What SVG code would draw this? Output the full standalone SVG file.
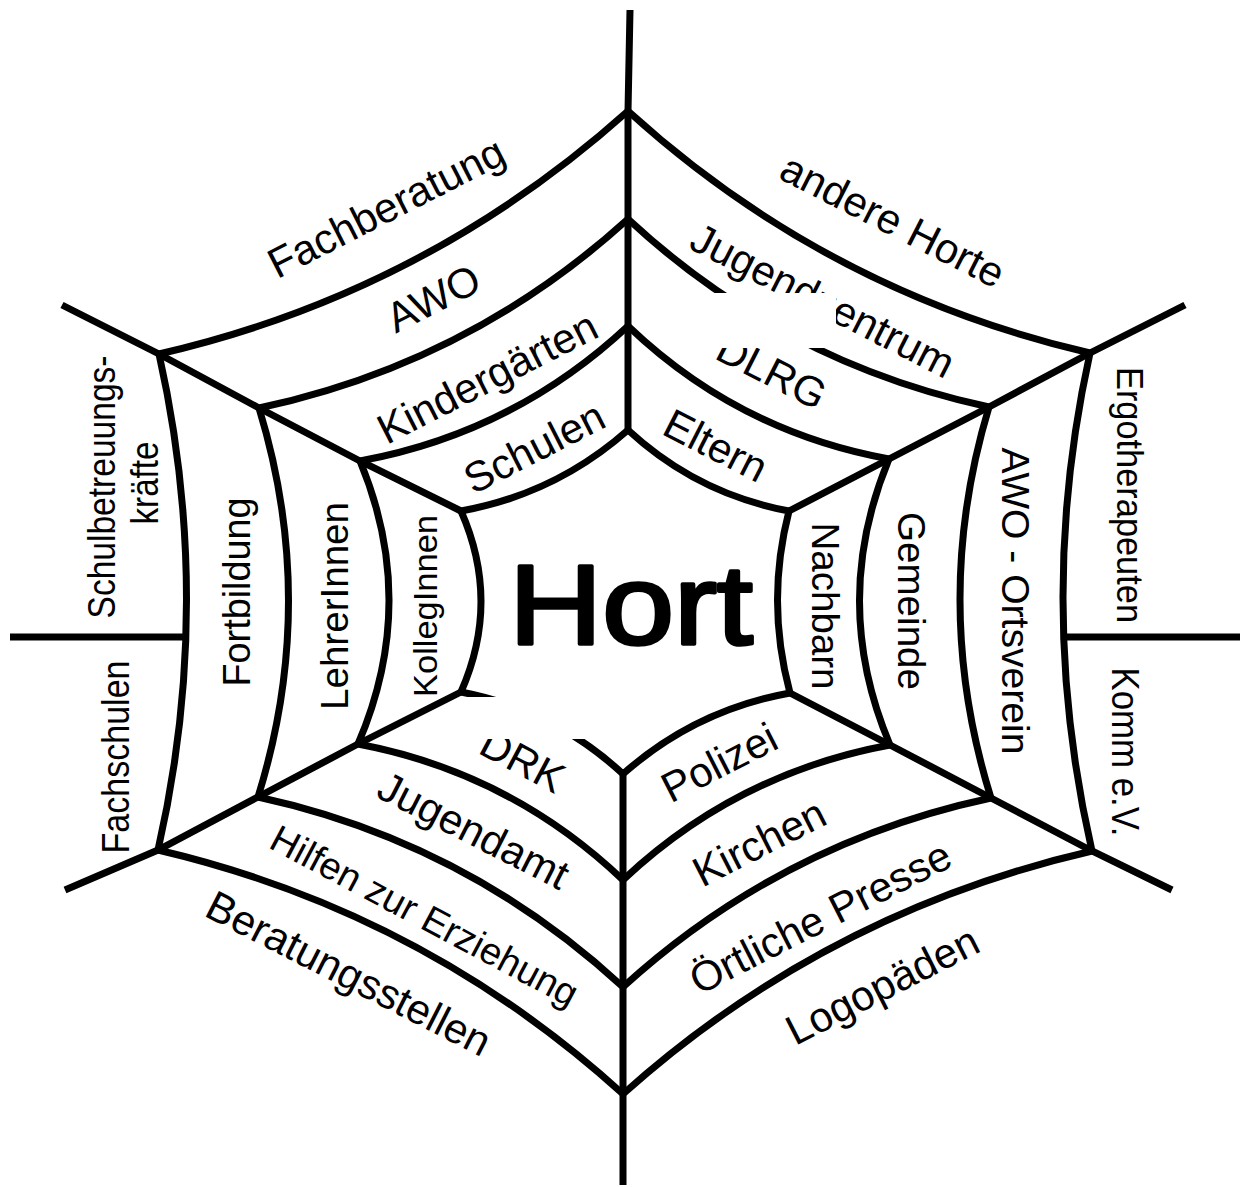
<svg xmlns="http://www.w3.org/2000/svg" width="1240" height="1187" viewBox="0 0 1240 1187">
<style>
.w{fill:none;stroke:#000;stroke-width:7;stroke-linejoin:miter;stroke-linecap:butt}
.t{font-family:"Liberation Sans",Arial,sans-serif;font-size:39px;fill:#000;text-anchor:middle}
.d{font-size:42px}
.h{font-family:"Liberation Sans",Arial,sans-serif;font-size:114px;fill:#000;stroke:#000;stroke-width:3.5;stroke-linejoin:round;stroke-linecap:round;text-anchor:middle}
</style>
<rect width="1240" height="1187" fill="#fff"/>
<g id="connectors">
<polyline class="w" points="628,430 628,326 628,219 628,111 630,10"/>
<polyline class="w" points="789,511 889,459 989,407 1090,353 1185,305"/>
<polyline class="w" points="790,693 890,745 991,798 1092,851 1172,890"/>
<polyline class="w" points="623,774 623,880 623,987 623,1094 623,1185"/>
<polyline class="w" points="461,692 358,744 258,797 158,850 65,890"/>
<polyline class="w" points="461,511 360,461 259,408 159,354 62,305"/>
<line class="w" x1="10" y1="637" x2="187" y2="637"/>
<line class="w" x1="1062" y1="637" x2="1240" y2="637"/>
<path id="ring1" class="w" d="M628,430 Q696.8,493.7 789,511 Q765.5,602 790,693 Q695.2,710.1 623,774 Q553.7,709.8 461,692 Q501,601.5 461,511 Q555.8,493.9 628,430"/>
<path id="ring2" class="w" d="M628,326 Q738.5,431.7 889,459 Q829.5,602 890,745 Q736.6,773.2 623,880 Q510.6,772.9 358,744 Q419,602.5 360,461 Q513.8,432.8 628,326"/>
<path id="ring3" class="w" d="M628,219 Q782.6,362.7 989,407 Q930,602.5 991,798 Q781.4,842.7 623,987 Q466.4,842.3 258,797 Q318.5,602.5 259,408 Q469,363.3 628,219"/>
<path id="ring4" class="w" d="M628,111 Q827.4,292.2 1090,353 Q1035,602 1092,851 Q826.2,912.1 623,1094 Q422.1,911.8 158,850 Q214.5,602 159,354 Q424.8,292.9 628,111"/>
</g>
<g id="hort"><text class="h" x="631" y="644" textLength="244" lengthAdjust="spacingAndGlyphs">Hort</text></g>
<g id="inner">
<g id="n-schulen"><text class="t d" transform="translate(534,447) rotate(-27)" dy="15">Schulen</text></g>
<g id="n-eltern"><text class="t d" transform="translate(716,445) rotate(27)" dy="15">Eltern</text></g>
<g id="n-nachbarn"><text class="t" transform="translate(812,606) rotate(90)" textLength="167" lengthAdjust="spacingAndGlyphs">Nachbarn</text></g>
<g id="n-polizei"><text class="t d" transform="translate(719,762) rotate(-27)" dy="15">Polizei</text></g>
<g id="n-drk"><text class="t d" transform="translate(523,760) rotate(28)" dy="15">DRK</text></g>
<g id="n-kolleginnen"><text class="t" style="font-size:33px" transform="translate(437,606) rotate(-90)" textLength="182" lengthAdjust="spacingAndGlyphs">KollegInnen</text></g>
</g>
<g id="second">
<g id="n-kindergaerten"><text class="t d" transform="translate(487,377) rotate(-27)" dy="15">Kindergärten</text></g>
<g id="n-dlrg"><text class="t d" transform="translate(772,371) rotate(27)" dy="15">DLRG</text></g>
<g id="n-gemeinde"><text class="t" transform="translate(898,601) rotate(90)" textLength="178" lengthAdjust="spacingAndGlyphs">Gemeinde</text></g>
<g id="n-kirchen"><text class="t d" transform="translate(759,842) rotate(-27)" dy="15">Kirchen</text></g>
<g id="n-jugendamt"><text class="t d" transform="translate(474,830) rotate(27)" dy="15">Jugendamt</text></g>
<g id="n-lehrerinnen"><text class="t" transform="translate(348,606) rotate(-90)" textLength="208" lengthAdjust="spacingAndGlyphs">LehrerInnen</text></g>
</g>
<g id="third">
<g id="n-awo"><text class="t d" transform="translate(433,298) rotate(-27)" dy="15">AWO</text></g>
<g id="n-jugendzentrum"><text class="t d" transform="translate(823,300) rotate(27)" dy="15">Jugendzentrum</text></g>
<g id="n-awo-ortsverein"><text class="t" transform="translate(1002,601) rotate(90)" textLength="307" lengthAdjust="spacingAndGlyphs">AWO - Ortsverein</text></g>
<g id="n-presse"><text class="t d" transform="translate(820,917) rotate(-27)" dy="15">Örtliche Presse</text></g>
<g id="n-hilfen"><text class="t" style="font-size:38px" transform="translate(425,915) rotate(28)" dy="14">Hilfen zur Erziehung</text></g>
<g id="n-fortbildung"><text class="t" transform="translate(250,592) rotate(-90)" textLength="189" lengthAdjust="spacingAndGlyphs">Fortbildung</text></g>
</g>
<g id="outer">
<g id="n-fachberatung"><text class="t d" transform="translate(386,207) rotate(-27)" dy="15">Fachberatung</text></g>
<g id="n-andere-horte"><text class="t d" transform="translate(893,220) rotate(27)" dy="15">andere Horte</text></g>
<g id="n-ergo"><text class="t" style="font-size:37px" transform="translate(1117,495) rotate(90)" textLength="256" lengthAdjust="spacingAndGlyphs">Ergotherapeuten</text></g>
<g id="n-komm"><text class="t" transform="translate(1112,752) rotate(90)" textLength="169" lengthAdjust="spacingAndGlyphs">Komm e.V.</text></g>
<g id="n-logopaeden"><text class="t d" transform="translate(882,985) rotate(-27)" dy="15">Logopäden</text></g>
<g id="n-beratungsstellen"><text class="t d" transform="translate(349,973) rotate(27)" dy="15">Beratungsstellen</text></g>
<g id="n-schulbetreuung"><text class="t" transform="translate(115,487) rotate(-90)" textLength="263" lengthAdjust="spacingAndGlyphs">Schulbetreuungs-</text><text class="t" transform="translate(158,483) rotate(-90)" textLength="83" lengthAdjust="spacingAndGlyphs">kräfte</text></g>
<g id="n-fachschulen"><text class="t" transform="translate(129,757) rotate(-90)" textLength="193" lengthAdjust="spacingAndGlyphs">Fachschulen</text></g>
</g>
<g id="masks" fill="#fff">
<rect x="690" y="293" width="146" height="55"/>
<rect x="466" y="697" width="134" height="42"/>
</g>
</svg>
